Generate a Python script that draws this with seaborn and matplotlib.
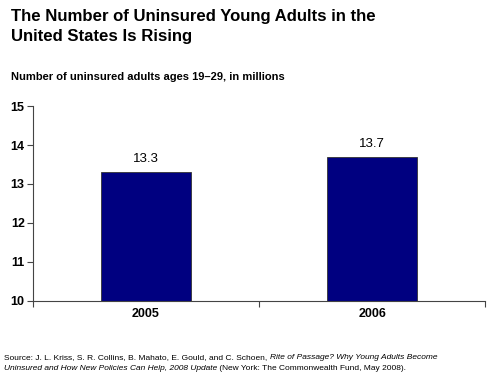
import matplotlib
matplotlib.use("Agg")
import matplotlib.pyplot as plt
import pandas as pd
import seaborn as sns

years = ["2005", "2006"]
uninsured = [13.3, 13.7]
y_ticks = [10, 11, 12, 13, 14, 15]

title = "The Number of Uninsured Young Adults in the\nUnited States Is Rising"
subtitle = "Number of uninsured adults ages 19\u201329, in millions"
source_lines = [
    [("Source: J. L. Kriss, S. R. Collins, B. Mahato, E. Gould, and C. Schoen, ", "normal"),
     ("Rite of Passage? Why Young Adults Become", "italic")],
    [("Uninsured and How New Policies Can Help, 2008 Update", "italic"),
     (" (New York: The Commonwealth Fund, May 2008).", "normal")],
]

sns.set_style("white")
plt.rcParams["font.family"] = ["Liberation Sans", "DejaVu Sans"]
plt.rcParams["text.color"] = "black"
plt.rcParams["xtick.color"] = "black"
plt.rcParams["ytick.color"] = "black"

df = pd.DataFrame({"year": years, "value": uninsured})

fig = plt.figure(figsize=(4.9, 3.8), dpi=100)
ax = fig.add_axes([0.0673, 0.208, 0.923, 0.513])

sns.barplot(data=df, x="year", y="value", order=years, color="#000080",
            edgecolor="#333333", linewidth=0.6, width=0.4, saturation=1, ax=ax)

ax.set_ylim(10, 15)
ax.set_xlim(-0.5, len(years) - 0.5)
ax.set_yticks(y_ticks)
ax.set_yticklabels([str(t) for t in y_ticks], fontsize=9, fontweight="bold")
ax.set_xticklabels(years, fontsize=9, fontweight="bold")
ax.set_xticks([i - 0.5 for i in range(len(years) + 1)], minor=True)
ax.tick_params(axis="x", which="major", bottom=True, length=0, pad=5)
ax.tick_params(axis="x", which="minor", bottom=True, length=4, width=0.8,
               color="#444444", direction="out")
ax.tick_params(axis="y", left=True, length=4, width=0.8, color="#444444",
               direction="out", pad=2)
ax.set_xlabel("")
ax.set_ylabel("")

for side in ["top", "right"]:
    ax.spines[side].set_visible(False)
for side in ["left", "bottom"]:
    ax.spines[side].set_color("#444444")
    ax.spines[side].set_linewidth(0.8)

for p, v in zip(ax.patches, uninsured):
    ax.annotate(f"{v:.1f}", (p.get_x() + p.get_width() / 2, v),
                xytext=(0, 5), textcoords="offset points",
                ha="center", va="bottom", fontsize=9.5)

fig.text(0.022, 0.977, title, fontsize=12.1, fontweight="bold", va="top", linespacing=1.45)
fig.text(0.022, 0.797, subtitle, fontsize=8, fontweight="bold", va="center")

# source note: mixed upright / italic runs placed one after another
renderer = fig.canvas.get_renderer()
for y, parts in zip([0.06, 0.03], source_lines):
    x = 0.008
    for s, style in parts:
        t = fig.text(x, y, s, fontsize=6, fontstyle=style, va="center")
        bb = t.get_window_extent(renderer=renderer)
        x += bb.width / fig.bbox.width

fig.savefig("out.png", dpi=100)
